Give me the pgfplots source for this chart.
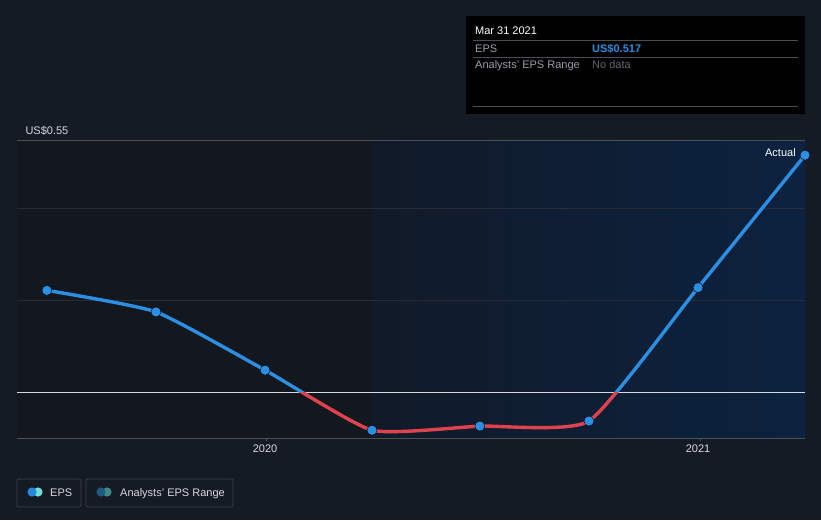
\documentclass[border=0pt]{standalone}
\usepackage{pgfplots}
\pgfplotsset{compat=1.18}
\usepackage{fontspec}
\setmainfont{Liberation Sans}
\definecolor{bg}{HTML}{151B25}
\definecolor{leftreg}{HTML}{13171E}
\definecolor{rA}{HTML}{111A28}
\definecolor{rB}{HTML}{0C2240}
\definecolor{epsblue}{HTML}{2B8FE3}
\definecolor{epsred}{HTML}{E0434E}
\definecolor{txt}{HTML}{D6D9DE}
\definecolor{gridc}{HTML}{262D38}
\definecolor{edgec}{HTML}{4A4F58}
\definecolor{ttgrey}{HTML}{9A9EA5}
\definecolor{ttdark}{HTML}{62666C}
\definecolor{ttline}{HTML}{4A4D52}
\definecolor{boxc}{HTML}{3A3F48}
\definecolor{legA}{HTML}{2389E0}
\definecolor{legB}{HTML}{6EE0D8}
\definecolor{legC}{HTML}{1F5A80}
\definecolor{legD}{HTML}{3F8A86}
% x = years after 2019.0
\pgfplotstableread{
x y
0.496 0.222
0.748 0.175
1.000 0.048
1.247 -0.083
1.496 -0.074
1.748 -0.063
2.000 0.228
2.247 0.517
}\epsdata
\begin{document}
\begin{tikzpicture}[font=\fontsize{11}{13}\selectfont]
\useasboundingbox (0,0) rectangle (821pt,520pt);
\fill[bg] (0,0) rectangle (821pt,520pt);
\begin{axis}[at={(17pt,82pt)}, anchor=south west, width=788pt, height=298pt, scale only axis,
  xmin=0.427, xmax=2.247, ymin=-0.1, ymax=0.55,
  axis line style={draw=none},
  xtick={1,2}, xticklabels={2020,2021},
  xticklabel style={text=txt, yshift=-3pt},
  ytick={-0.1,0,0.55}, yticklabels={-US\$0.1,US\$0,US\$0.55},
  yticklabel style={anchor=south west, xshift=5pt, yshift=1pt, text=txt},
  major tick length=0pt,
  tick style={draw=none}]
\fill[leftreg] (axis cs:0.427,-0.1) rectangle (axis cs:1.247,0.55);
\shade[left color=rA, right color=rB] (axis cs:1.247,-0.1) rectangle (axis cs:2.247,0.55);
\draw[gridc, line width=0.8pt] (axis cs:0.427,0.2) -- (axis cs:2.247,0.2);
\draw[gridc, line width=0.8pt] (axis cs:0.427,0.4) -- (axis cs:2.247,0.4);
\draw[edgec, line width=1pt] (axis cs:0.427,0.55) -- (axis cs:2.247,0.55);
\draw[edgec, line width=1pt] (axis cs:0.427,-0.1) -- (axis cs:2.247,-0.1);
\draw[txt, line width=1.2pt] (axis cs:0.427,0) -- (axis cs:2.247,0);
\begin{scope}
\clip (axis cs:0.3,0) rectangle (axis cs:2.4,0.6);
\addplot[epsblue, line width=3.4pt, smooth, tension=0.3] table {\epsdata};
\end{scope}
\begin{scope}
\clip (axis cs:0.3,-0.2) rectangle (axis cs:2.4,0);
\addplot[epsred, line width=3.4pt, smooth, tension=0.3] table {\epsdata};
\end{scope}
\addplot[only marks, mark=*, mark size=5pt, mark options={fill=epsblue, draw=none}] table {\epsdata};
\node[anchor=base east, text=white, inner sep=0pt] at (axis cs:2.226,0.513) {Actual};
\end{axis}
% tooltip
\fill[black] (466pt,406pt) rectangle (805pt,504pt);
\node[anchor=base west, text=white, inner sep=0pt] at (475pt,485pt) {Mar 31 2021};
\draw[ttline, line width=0.8pt] (473pt,480pt) -- (798pt,480pt);
\node[anchor=base west, text=ttgrey, inner sep=0pt] at (475pt,467pt) {EPS};
\node[anchor=base west, text=epsblue, inner sep=0pt] at (592pt,467pt) {\bfseries US\$0.517};
\draw[ttline, line width=0.8pt] (473pt,463pt) -- (798pt,463pt);
\node[anchor=base west, text=ttgrey, inner sep=0pt] at (475pt,451pt) {Analysts' EPS Range};
\node[anchor=base west, text=ttdark, inner sep=0pt] at (592pt,451pt) {No data};
\draw[ttline, line width=0.8pt] (473pt,414pt) -- (798pt,414pt);
% x ticks
\draw[edgec, line width=0.8pt] (266pt,82pt) -- (266pt,79pt);
\draw[edgec, line width=0.8pt] (700pt,82pt) -- (700pt,79pt);
% legend
\draw[boxc, line width=0.8pt, rounded corners=2pt] (17pt,13pt) rectangle (81pt,41pt);
\fill[legB] (38pt,28pt) circle (4.6pt);
\fill[legA] (32pt,28pt) circle (4.6pt);
\node[anchor=base west, text=txt, inner sep=0pt] at (50pt,24pt) {EPS};
\draw[boxc, line width=0.8pt, rounded corners=2pt] (86pt,13pt) rectangle (233pt,41pt);
\fill[legD] (107pt,28pt) circle (4.6pt);
\fill[legC] (101pt,28pt) circle (4.6pt);
\node[anchor=base west, text=txt, inner sep=0pt] at (120pt,24pt) {Analysts' EPS Range};
\end{tikzpicture}
\end{document}
